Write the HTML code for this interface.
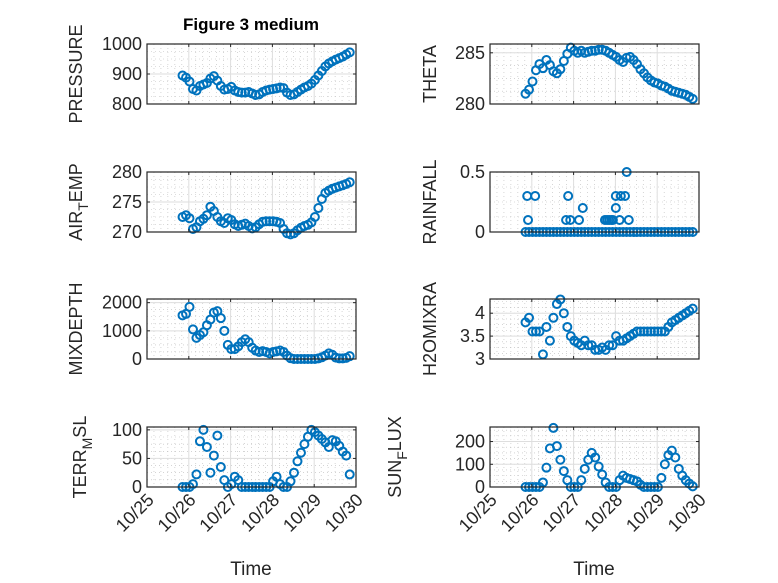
<!DOCTYPE html>
<html><head><meta charset="utf-8"><style>
html,body{margin:0;padding:0;background:#fff;}
svg{display:block;font-family:"Liberation Sans",sans-serif;}
</style></head><body>
<svg id="fig" width="778" height="583" viewBox="0 0 778 583" xmlns="http://www.w3.org/2000/svg">
<rect width="778" height="583" fill="#fff"/>
<text x="251" y="30" text-anchor="middle" font-size="17" font-weight="bold" fill="#000">Figure 3 medium</text>
<text x="251" y="575" text-anchor="middle" font-size="19" fill="#262626">Time</text>
<text x="594" y="575" text-anchor="middle" font-size="19" fill="#262626">Time</text>
</svg>
<script>
const xTickLabels = ["10/25","10/26","10/27","10/28","10/29","10/30"];
const xTickDays = [25,26,27,28,29,30];
const startDay = 25.85;
const stepDay = 1/12;
const pressure = [895,888,875,850,845,860,865,870,885,893,878,860,848,850,857,845,840,838,838,840,835,830,832,840,845,848,850,852,855,853,838,830,832,840,848,855,860,868,880,895,910,925,935,942,948,953,958,965,972];
const airTemp = [272.5,272.8,272.3,270.5,270.8,271.8,272.2,272.8,274.2,273.5,272.5,271.8,271.5,272.3,272.0,271.3,271.0,271.2,271.4,271.0,270.6,270.8,271.3,271.7,271.8,271.8,271.8,271.7,271.5,270.5,269.8,269.6,269.8,270.3,270.7,271.0,271.2,271.6,272.5,274.0,275.5,276.5,276.9,277.2,277.4,277.6,277.8,278.0,278.3];
const mixDepth = [1550,1600,1850,1050,750,850,950,1200,1400,1650,1700,1450,1000,500,350,350,450,600,700,600,400,300,250,280,250,200,250,270,300,250,120,30,0,0,0,0,0,0,0,20,60,120,200,150,50,20,20,40,100];
const terrMsl = [0,0,0,5,22,80,100,70,25,55,90,35,12,0,5,18,12,0,0,0,0,0,0,0,0,0,10,18,5,0,0,10,25,45,60,75,88,100,96,90,84,78,70,82,80,72,62,55,22];
const theta = [281.0,281.4,282.2,283.3,283.9,283.5,284.3,283.8,283.2,283.0,283.4,284.2,284.9,285.5,285.2,285.0,285.2,285.0,285.1,285.2,285.2,285.3,285.3,285.2,285.0,284.8,284.6,284.3,284.1,284.5,284.6,284.3,283.9,283.4,283.0,282.6,282.3,282.1,282.0,281.8,281.7,281.5,281.3,281.2,281.1,281.0,280.9,280.7,280.5];
const rainfall = [0,0,0,0,0,0,0,0,0,0,0,0,0,0,0,0,0,0,0,0,0,0,0,0,0,0,0,0,0,0,0,0,0,0,0,0,0,0,0,0,0,0,0,0,0,0,0,0,0];
const rainEventDays = [25.89,25.91,26.08,26.87,26.82,26.92,27.13,27.22,27.75,27.8,27.85,27.9,27.94,28.01,28.01,28.13,28.23,28.27,28.1,28.32];
const rainEventVals = [0.3,0.1,0.3,0.3,0.1,0.1,0.1,0.2,0.1,0.1,0.1,0.1,0.1,0.2,0.3,0.3,0.3,0.5,0.1,0.1];
const h2oMixRa = [3.8,3.9,3.6,3.6,3.6,3.1,3.7,3.4,3.9,4.2,4.3,4.0,3.7,3.5,3.4,3.35,3.3,3.4,3.3,3.3,3.2,3.2,3.25,3.2,3.3,3.3,3.5,3.4,3.4,3.45,3.5,3.55,3.6,3.6,3.6,3.6,3.6,3.6,3.6,3.6,3.6,3.7,3.8,3.85,3.9,3.95,4.0,4.05,4.1];
const sunFlux = [0,0,0,0,0,20,85,170,260,180,120,70,30,0,0,0,30,80,120,150,130,90,55,20,0,0,0,30,50,40,35,30,25,10,0,0,0,0,0,40,100,140,160,130,80,50,30,15,3];

const NS="http://www.w3.org/2000/svg";
const svg=document.getElementById('fig');
function mk(tag,attrs,parent){const e=document.createElementNS(NS,tag);for(const k in attrs)e.setAttribute(k,attrs[k]);(parent||svg).appendChild(e);return e;}

const panels=[
 {name:'pressure',vals:pressure,x0:147,y0:44,ymin:800,ymax:1000,ticks:[800,900,1000],label:['PRESSURE'],lx:82},
 {name:'air-temp',vals:airTemp,x0:147,y0:172,ymin:270,ymax:280,ticks:[270,275,280],label:['AIR','T','EMP'],lx:82},
 {name:'mixdepth',vals:mixDepth,x0:147,y0:299,ymin:0,ymax:2130,ticks:[0,1000,2000],label:['MIXDEPTH'],lx:82},
 {name:'terr-msl',vals:terrMsl,x0:147,y0:427,ymin:0,ymax:105,ticks:[0,50,100],label:['TERR','M','SL'],lx:86,bottom:true},
 {name:'theta',vals:theta,x0:490,y0:44,ymin:280,ymax:285.86,ticks:[280,285],label:['THETA'],lx:436},
 {name:'rainfall',vals:rainfall,x0:490,y0:172,ymin:0,ymax:0.5,ticks:[0,0.5],label:['RAINFALL'],lx:436,extraX:rainEventDays,extraY:rainEventVals},
 {name:'h2omixra',vals:h2oMixRa,x0:490,y0:299,ymin:3,ymax:4.31,ticks:[3,3.5,4],label:['H2OMIXRA'],lx:436},
 {name:'sunflux',vals:sunFlux,x0:490,y0:427,ymin:0,ymax:264,ticks:[0,100,200],label:['SUN','F','LUX'],lx:401,bottom:true}
];
const W=209,H=60;
panels.forEach(p=>{
  const g=mk('g',{});
  
  
  const xs=d=>p.x0+(d-25)/5*W;
  const ys=v=>p.y0+H-(v-p.ymin)/(p.ymax-p.ymin)*H;
  mk('rect',{x:p.x0,y:p.y0,width:W,height:H,fill:'#fff'},g);
  for(let d=25;d<30;d+=1/6){const x=xs(d);mk('line',{x1:x,x2:x,y1:p.y0,y2:p.y0+H,stroke:'#bbb','stroke-width':0.6,'stroke-dasharray':'1 3'},g);}
  const step=p.ticks[1]-p.ticks[0];
  for(let v=p.ticks[0]-step;v<p.ymax+step;v+=step/4){if(v>p.ymin&&v<p.ymax){const y=ys(v);mk('line',{x1:p.x0,x2:p.x0+W,y1:y,y2:y,stroke:'#bbb','stroke-width':0.6,'stroke-dasharray':'1 3'},g);}}
  xTickDays.forEach(d=>{const x=xs(d);mk('line',{x1:x,x2:x,y1:p.y0,y2:p.y0+H,stroke:'#dedede','stroke-width':1},g);});
  p.ticks.forEach(v=>{const y=ys(v);mk('line',{x1:p.x0,x2:p.x0+W,y1:y,y2:y,stroke:'#dedede','stroke-width':1},g);});
  const dg=mk('g',{fill:'none',stroke:'#0072BD','stroke-width':2},g);
  
  
  p.vals.forEach((v,i)=>{const c=mk('circle',{cx:xs(startDay+i*stepDay),cy:ys(v),r:4},dg);
    
    });
  if(p.extraX){p.extraX.forEach((d,i)=>{const c=mk('circle',{cx:xs(d),cy:ys(p.extraY[i]),r:4},dg);
    
    });}
  mk('rect',{x:p.x0,y:p.y0,width:W,height:H,fill:'none',stroke:'#262626','stroke-width':1.2},g);
  xTickDays.forEach((d,i)=>{const x=xs(d);
    mk('line',{x1:x,x2:x,y1:p.y0+H,y2:p.y0+H-3,stroke:'#262626'},g);
    mk('line',{x1:x,x2:x,y1:p.y0,y2:p.y0+3,stroke:'#262626'},g);
    if(p.bottom){const tx=x+8,ty=p.y0+H+14;
      const t=mk('text',{x:tx,y:ty,'text-anchor':'end','font-size':18,fill:'#262626',transform:`rotate(-45 ${tx} ${ty})`},g);t.textContent=xTickLabels[i];
      
      }
  });
  p.ticks.forEach(v=>{const y=ys(v);
    mk('line',{x1:p.x0,x2:p.x0+3,y1:y,y2:y,stroke:'#262626'},g);
    mk('line',{x1:p.x0+W,x2:p.x0+W-3,y1:y,y2:y,stroke:'#262626'},g);
    const t=mk('text',{x:p.x0-5,y:y+6,'text-anchor':'end','font-size':18,fill:'#262626'},g);t.textContent=String(v);
    
    });
  const cy=p.y0+H/2;
  const lt=mk('text',{x:p.lx,y:cy,'text-anchor':'middle','font-size':18,fill:'#262626',transform:`rotate(-90 ${p.lx} ${cy})`},g);
  
  
  if(p.label.length===1){lt.textContent=p.label[0];}
  else{const a=mk('tspan',{},lt);a.textContent=p.label[0];
    const b=mk('tspan',{dy:6,'font-size':14},lt);b.textContent=p.label[1];
    const c=mk('tspan',{dy:-6},lt);c.textContent=p.label[2];}
});
</script>
</body></html>
